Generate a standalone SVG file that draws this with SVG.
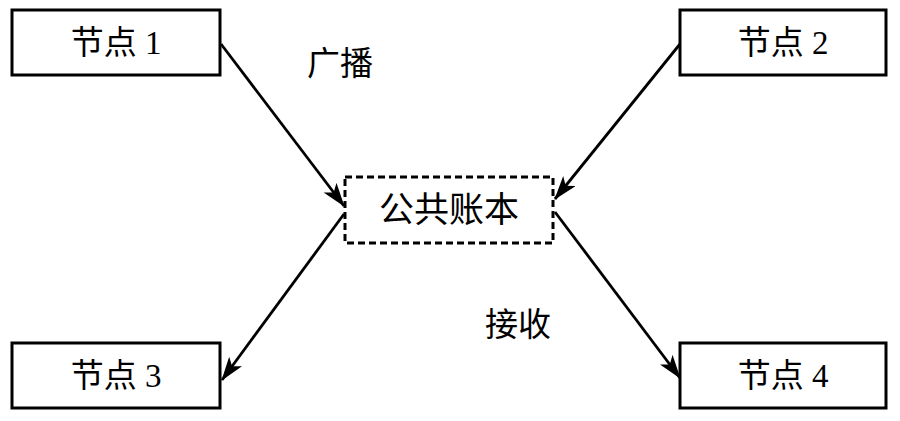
<svg xmlns="http://www.w3.org/2000/svg" width="900" height="421" viewBox="0 0 900 421">
<style>
.box{fill:#fff;stroke:#000;stroke-width:3}
.dash{fill:#fff;stroke:#000;stroke-width:3;stroke-dasharray:7 4}
text{font-family:"Liberation Serif","Noto Sans CJK SC",serif;font-size:33px;fill:#000;text-anchor:middle;dominant-baseline:central}
.ln{stroke:#000;stroke-width:2.8;fill:none;marker-end:url(#ah)}
</style>
<defs>
<marker id="ah" viewBox="0 0 24 16" refX="23" refY="8" markerWidth="24" markerHeight="16" markerUnits="userSpaceOnUse" orient="auto">
<path d="M0,0 L24,8 L0,16 L6,8 Z" fill="#000"/>
</marker>
</defs>
<g id="connectors">
<line class="ln" x1="221" y1="44" x2="344" y2="206"/>
<line class="ln" x1="680" y1="44" x2="555" y2="199"/>
<line class="ln" x1="344" y1="214" x2="222" y2="380"/>
<line class="ln" x1="555" y1="212" x2="680" y2="378"/>
</g>
<g id="node1"><rect class="box" x="12" y="10" width="208" height="65"/><text x="116" y="43">节点 1</text></g>
<g id="node2"><rect class="box" x="680" y="10" width="206" height="65"/><text x="783" y="43">节点 2</text></g>
<g id="node3"><rect class="box" x="12" y="343" width="208" height="65"/><text x="116" y="376">节点 3</text></g>
<g id="node4"><rect class="box" x="680" y="343" width="206" height="65"/><text x="783" y="376">节点 4</text></g>
<g id="ledger"><rect class="dash" x="345" y="177" width="208" height="66"/><text x="449" y="210" style="font-size:35px">公共账本</text></g>
<g id="labels"><text x="340" y="64">广播</text><text x="518" y="325">接收</text></g>
</svg>
